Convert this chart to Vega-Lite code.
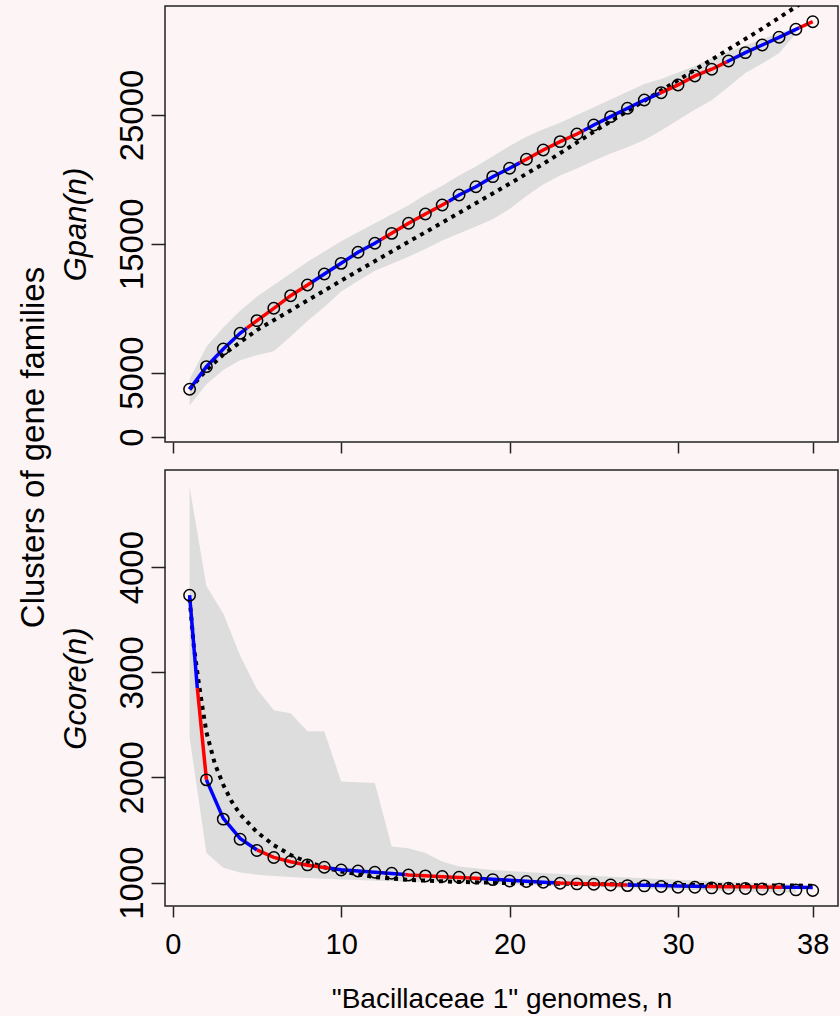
{
  "$schema": "https://vega.github.io/schema/vega-lite/v6.json",
  "background": "#fdf5f5",
  "padding": {"left": 18, "top": 5, "right": 1, "bottom": 2},
  "spacing": 14,
  "title": {"text": "Clusters of gene families", "orient": "left", "anchor": "middle", "frame": "bounds", "fontSize": 33, "font": "Liberation Sans", "fontWeight": "normal", "color": "black", "offset": 8, "dx": 62},
  "config": {
    "font": "Liberation Sans",
    "view": {"stroke": "#222222", "strokeWidth": 1.5},
    "axis": {"domain": false, "grid": false, "tickColor": "#222222", "tickWidth": 1.5, "labelColor": "black", "titleColor": "black", "labelFont": "Liberation Sans", "titleFont": "Liberation Sans", "titleFontWeight": "normal", "labelOverlap": false, "labelFlush": false, "format": "d"},
    "axisY": {"labelAngle": -90, "labelAlign": "center", "labelBaseline": "alphabetic", "labelFontSize": 33, "tickSize": 14, "labelPadding": 9, "titleFontSize": 31, "titleFontStyle": "italic", "titlePadding": 24},
    "axisX": {"labelFontSize": 29, "tickSize": 11, "labelPadding": 13, "titleFontSize": 28, "titlePadding": 26}
  },
  "datasets": {
    "pan_pts": [
      {"n":1,"v":3703},{"n":2,"v":5460},{"n":3,"v":6832},{"n":4,"v":8050},{"n":5,"v":9030},{"n":6,"v":9990},{"n":7,"v":10970},{"n":8,"v":11800},{"n":9,"v":12650},{"n":10,"v":13480},
      {"n":11,"v":14340},{"n":12,"v":15040},{"n":13,"v":15810},{"n":14,"v":16590},{"n":15,"v":17310},{"n":16,"v":18010},{"n":17,"v":18790},{"n":18,"v":19430},{"n":19,"v":20210},{"n":20,"v":20860},
      {"n":21,"v":21560},{"n":22,"v":22280},{"n":23,"v":22930},{"n":24,"v":23520},{"n":25,"v":24220},{"n":26,"v":24870},{"n":27,"v":25520},{"n":28,"v":26160},{"n":29,"v":26730},{"n":30,"v":27330},
      {"n":31,"v":28030},{"n":32,"v":28550},{"n":33,"v":29190},{"n":34,"v":29840},{"n":35,"v":30430},{"n":36,"v":31030},{"n":37,"v":31650},{"n":38,"v":32240}
    ],
    "pan_fit": [
      {"n":1,"v":3703,"seg":0,"alt":"A"},{"n":2,"v":5460,"seg":0,"alt":"A"},{"n":3,"v":6832,"seg":0,"alt":"A"},{"n":4,"v":8050,"seg":0,"alt":"A"},{"n":4.4,"v":8450,"seg":0,"alt":"A"},
      {"n":4.4,"v":8450,"seg":1,"alt":"B"},{"n":5,"v":9030,"seg":1,"alt":"B"},{"n":6,"v":9990,"seg":1,"alt":"B"},{"n":7,"v":10970,"seg":1,"alt":"B"},{"n":8,"v":11800,"seg":1,"alt":"B"},{"n":8.3,"v":12050,"seg":1,"alt":"B"},
      {"n":8.3,"v":12050,"seg":2,"alt":"A"},{"n":9,"v":12650,"seg":2,"alt":"A"},{"n":10,"v":13480,"seg":2,"alt":"A"},{"n":11,"v":14340,"seg":2,"alt":"A"},{"n":12,"v":15040,"seg":2,"alt":"A"},{"n":12.4,"v":15350,"seg":2,"alt":"A"},
      {"n":12.4,"v":15350,"seg":3,"alt":"B"},{"n":13,"v":15810,"seg":3,"alt":"B"},{"n":14,"v":16590,"seg":3,"alt":"B"},{"n":15,"v":17310,"seg":3,"alt":"B"},{"n":16,"v":18010,"seg":3,"alt":"B"},{"n":16.4,"v":18300,"seg":3,"alt":"B"},
      {"n":16.4,"v":18300,"seg":4,"alt":"A"},{"n":17,"v":18790,"seg":4,"alt":"A"},{"n":18,"v":19430,"seg":4,"alt":"A"},{"n":19,"v":20210,"seg":4,"alt":"A"},{"n":20,"v":20860,"seg":4,"alt":"A"},{"n":20.6,"v":21280,"seg":4,"alt":"A"},
      {"n":20.6,"v":21280,"seg":5,"alt":"B"},{"n":21,"v":21560,"seg":5,"alt":"B"},{"n":22,"v":22280,"seg":5,"alt":"B"},{"n":23,"v":22930,"seg":5,"alt":"B"},{"n":24,"v":23520,"seg":5,"alt":"B"},{"n":24.4,"v":23800,"seg":5,"alt":"B"},
      {"n":24.4,"v":23800,"seg":6,"alt":"A"},{"n":25,"v":24220,"seg":6,"alt":"A"},{"n":26,"v":24870,"seg":6,"alt":"A"},{"n":27,"v":25520,"seg":6,"alt":"A"},{"n":28,"v":26160,"seg":6,"alt":"A"},{"n":28.9,"v":26670,"seg":6,"alt":"A"},
      {"n":28.9,"v":26670,"seg":7,"alt":"B"},{"n":29,"v":26730,"seg":7,"alt":"B"},{"n":30,"v":27330,"seg":7,"alt":"B"},{"n":31,"v":28030,"seg":7,"alt":"B"},{"n":32,"v":28550,"seg":7,"alt":"B"},{"n":32.9,"v":29120,"seg":7,"alt":"B"},
      {"n":32.9,"v":29120,"seg":8,"alt":"A"},{"n":33,"v":29190,"seg":8,"alt":"A"},{"n":34,"v":29840,"seg":8,"alt":"A"},{"n":35,"v":30430,"seg":8,"alt":"A"},{"n":36,"v":31030,"seg":8,"alt":"A"},{"n":37,"v":31650,"seg":8,"alt":"A"},{"n":37.2,"v":31770,"seg":8,"alt":"A"},
      {"n":37.2,"v":31770,"seg":9,"alt":"B"},{"n":38,"v":32240,"seg":9,"alt":"B"}
    ],
    "pan_dot": [
      {"n":1,"v":3700},{"n":2,"v":5200},{"n":3,"v":6400},{"n":5,"v":8300},{"n":8,"v":10600},{"n":11,"v":12900},{"n":15,"v":15900},{"n":19,"v":18900},{"n":22,"v":21200},{"n":25,"v":23700},{"n":29,"v":26900},{"n":32,"v":29300},{"n":35,"v":31700},{"n":37,"v":33400},{"n":38,"v":34300}
    ],
    "pan_band": [
      {"n":1,"v":4500,"v2":2450},{"n":2,"v":7000,"v2":4100},{"n":3,"v":8500,"v2":5200},{"n":4,"v":9800,"v2":5950},{"n":5,"v":10900,"v2":6350},{"n":6,"v":11800,"v2":6650},{"n":7,"v":12700,"v2":7800},{"n":8,"v":13600,"v2":9000},{"n":9,"v":14400,"v2":10100},{"n":10,"v":15200,"v2":11300},
      {"n":11,"v":15900,"v2":12100},{"n":12,"v":16600,"v2":12900},{"n":13,"v":17300,"v2":13450},{"n":14,"v":18000,"v2":14000},{"n":15,"v":18800,"v2":14600},{"n":16,"v":19500,"v2":15250},{"n":17,"v":20300,"v2":15800},{"n":18,"v":21000,"v2":16350},{"n":19,"v":21800,"v2":16900},{"n":20,"v":22600,"v2":17700},
      {"n":21,"v":23300,"v2":18700},{"n":22,"v":23900,"v2":19600},{"n":23,"v":24400,"v2":20300},{"n":24,"v":25000,"v2":20850},{"n":25,"v":25600,"v2":21450},{"n":26,"v":26200,"v2":22000},{"n":27,"v":26800,"v2":22500},{"n":28,"v":27400,"v2":23050},{"n":29,"v":27800,"v2":23800},{"n":30,"v":28300,"v2":24600},
      {"n":31,"v":28800,"v2":25400},{"n":32,"v":29400,"v2":26150},{"n":33,"v":29900,"v2":27200},{"n":34,"v":30400,"v2":28250},{"n":35,"v":30900,"v2":29000},{"n":36,"v":31350,"v2":29800},{"n":37,"v":31800,"v2":31300}
    ],
    "core_pts": [
      {"n":1,"v":3733},{"n":2,"v":1977},{"n":3,"v":1603},{"n":4,"v":1412},{"n":5,"v":1305},{"n":6,"v":1238},{"n":7,"v":1200},{"n":8,"v":1168},{"n":9,"v":1146},{"n":10,"v":1120},
      {"n":11,"v":1110},{"n":12,"v":1098},{"n":13,"v":1089},{"n":14,"v":1072},{"n":15,"v":1063},{"n":16,"v":1057},{"n":17,"v":1050},{"n":18,"v":1044},{"n":19,"v":1028},{"n":20,"v":1015},
      {"n":21,"v":1010},{"n":22,"v":1003},{"n":23,"v":993},{"n":24,"v":987},{"n":25,"v":984},{"n":26,"v":977},{"n":27,"v":971},{"n":28,"v":968},{"n":29,"v":962},{"n":30,"v":955},
      {"n":31,"v":955},{"n":32,"v":949},{"n":33,"v":946},{"n":34,"v":943},{"n":35,"v":939},{"n":36,"v":936},{"n":37,"v":930},{"n":38,"v":924}
    ],
    "core_fit": [
      {"n":1,"v":3733,"seg":0,"alt":"A"},{"n":1.46,"v":2850,"seg":0,"alt":"A"},
      {"n":1.46,"v":2850,"seg":1,"alt":"B"},{"n":2,"v":1977,"seg":1,"alt":"B"},
      {"n":2,"v":1977,"seg":2,"alt":"A"},{"n":3,"v":1610,"seg":2,"alt":"A"},{"n":4,"v":1420,"seg":2,"alt":"A"},{"n":5,"v":1310,"seg":2,"alt":"A"},
      {"n":5,"v":1310,"seg":3,"alt":"B"},{"n":6,"v":1240,"seg":3,"alt":"B"},{"n":7,"v":1198,"seg":3,"alt":"B"},{"n":8,"v":1165,"seg":3,"alt":"B"},{"n":9,"v":1143,"seg":3,"alt":"B"},{"n":9.35,"v":1135,"seg":3,"alt":"B"},
      {"n":9.35,"v":1135,"seg":4,"alt":"A"},{"n":10,"v":1122,"seg":4,"alt":"A"},{"n":11,"v":1110,"seg":4,"alt":"A"},{"n":12,"v":1098,"seg":4,"alt":"A"},{"n":13,"v":1086,"seg":4,"alt":"A"},{"n":13.8,"v":1076,"seg":4,"alt":"A"},
      {"n":13.8,"v":1076,"seg":5,"alt":"B"},{"n":14,"v":1073,"seg":5,"alt":"B"},{"n":15,"v":1064,"seg":5,"alt":"B"},{"n":16,"v":1056,"seg":5,"alt":"B"},{"n":17,"v":1048,"seg":5,"alt":"B"},{"n":18,"v":1041,"seg":5,"alt":"B"},{"n":18.25,"v":1039,"seg":5,"alt":"B"},
      {"n":18.25,"v":1039,"seg":6,"alt":"A"},{"n":19,"v":1031,"seg":6,"alt":"A"},{"n":20,"v":1021,"seg":6,"alt":"A"},{"n":21,"v":1012,"seg":6,"alt":"A"},{"n":22,"v":1004,"seg":6,"alt":"A"},{"n":22.7,"v":998,"seg":6,"alt":"A"},
      {"n":22.7,"v":998,"seg":7,"alt":"B"},{"n":23,"v":995,"seg":7,"alt":"B"},{"n":24,"v":990,"seg":7,"alt":"B"},{"n":25,"v":986,"seg":7,"alt":"B"},{"n":26,"v":981,"seg":7,"alt":"B"},{"n":27,"v":977,"seg":7,"alt":"B"},
      {"n":27,"v":977,"seg":8,"alt":"A"},{"n":28,"v":974,"seg":8,"alt":"A"},{"n":29,"v":971,"seg":8,"alt":"A"},{"n":30,"v":968,"seg":8,"alt":"A"},{"n":31,"v":965,"seg":8,"alt":"A"},{"n":31.7,"v":963,"seg":8,"alt":"A"},
      {"n":31.7,"v":963,"seg":9,"alt":"B"},{"n":32,"v":962,"seg":9,"alt":"B"},{"n":33,"v":961,"seg":9,"alt":"B"},{"n":34,"v":959,"seg":9,"alt":"B"},{"n":35,"v":958,"seg":9,"alt":"B"},{"n":36,"v":956,"seg":9,"alt":"B"},{"n":36.2,"v":956,"seg":9,"alt":"B"},
      {"n":36.2,"v":956,"seg":10,"alt":"A"},{"n":37,"v":955,"seg":10,"alt":"A"},{"n":38,"v":954,"seg":10,"alt":"A"}
    ],
    "core_dot": [
      {"n":1,"v":3700},{"n":1.25,"v":3250},{"n":1.5,"v":2950},{"n":1.75,"v":2680},{"n":2,"v":2430},{"n":2.5,"v":2130},{"n":3,"v":1930},{"n":3.5,"v":1770},{"n":4,"v":1650},{"n":5,"v":1480},{"n":6,"v":1355},{"n":7,"v":1262},{"n":8,"v":1195},{"n":9,"v":1145},{"n":10,"v":1105},{"n":12,"v":1052},{"n":14,"v":1025},{"n":17,"v":1006},{"n":20,"v":995},{"n":25,"v":985},{"n":30,"v":978},{"n":34,"v":974},{"n":38,"v":970}
    ],
    "core_band": [
      {"n":1,"v":4765,"v2":2380},{"n":2,"v":3820,"v2":1280},{"n":3,"v":3560,"v2":1140},{"n":4,"v":3160,"v2":1095},{"n":5,"v":2840,"v2":1075},{"n":6,"v":2640,"v2":1062},{"n":7,"v":2610,"v2":1052},{"n":8,"v":2438,"v2":1044},{"n":9,"v":2438,"v2":1037},{"n":10,"v":1962,"v2":1030},
      {"n":11,"v":1955,"v2":1024},{"n":12,"v":1946,"v2":1018},{"n":13,"v":1343,"v2":1013},{"n":14,"v":1327,"v2":1008},{"n":15,"v":1280,"v2":1004},{"n":16,"v":1200,"v2":1000},{"n":17,"v":1152,"v2":996},{"n":18,"v":1136,"v2":992},{"n":19,"v":1120,"v2":987},{"n":20,"v":1110,"v2":982},
      {"n":21,"v":1100,"v2":977},{"n":22,"v":1090,"v2":972},{"n":23,"v":1081,"v2":967},{"n":24,"v":1072,"v2":962},{"n":25,"v":1064,"v2":957},{"n":26,"v":1056,"v2":952},{"n":27,"v":1048,"v2":947},{"n":28,"v":1040,"v2":942},{"n":29,"v":1033,"v2":937},{"n":30,"v":1026,"v2":932},
      {"n":31,"v":1019,"v2":928},{"n":32,"v":1012,"v2":924},{"n":33,"v":1006,"v2":920},{"n":34,"v":1000,"v2":916},{"n":35,"v":994,"v2":912},{"n":36,"v":988,"v2":908},{"n":37,"v":980,"v2":904}
    ]
  },
  "vconcat": [
    {
      "width": 673,
      "height": 436,
      "encoding": {
        "x": {"field": "n", "type": "quantitative", "scale": {"domain": [-0.46, 39.5], "nice": false, "zero": false}, "axis": {"values": [0, 10, 20, 30, 38], "labels": false, "title": null}},
        "y": {"field": "v", "type": "quantitative", "scale": {"domain": [-390, 33460], "nice": false, "zero": false}, "axis": {"values": [0, 5000, 15000, 25000], "title": "Gpan(n)"}}
      },
      "layer": [
        {"data": {"name": "pan_band"}, "mark": {"type": "area", "color": "#dddddd", "clip": true}, "encoding": {"y2": {"field": "v2"}}},
        {"data": {"name": "pan_dot"}, "mark": {"type": "line", "color": "black", "strokeDash": [4, 5], "strokeWidth": 4, "clip": true}, "encoding": {}},
        {"data": {"name": "pan_fit"}, "mark": {"type": "line", "strokeWidth": 3.5, "clip": true}, "encoding": {"detail": {"field": "seg", "type": "nominal"}, "color": {"field": "alt", "type": "nominal", "scale": {"domain": ["A", "B"], "range": ["#0000ff", "#ff0000"]}, "legend": null}}},
        {"data": {"name": "pan_pts"}, "mark": {"type": "point", "shape": "circle", "filled": false, "color": "black", "size": 130, "strokeWidth": 1.5, "opacity": 1}, "encoding": {}}
      ]
    },
    {
      "width": 673,
      "height": 436,
      "encoding": {
        "x": {"field": "n", "type": "quantitative", "scale": {"domain": [-0.46, 39.5], "nice": false, "zero": false}, "axis": {"values": [0, 10, 20, 30, 38], "title": "\"Bacillaceae 1\" genomes, n"}},
        "y": {"field": "v", "type": "quantitative", "scale": {"domain": [777, 4924], "nice": false, "zero": false}, "axis": {"values": [1000, 2000, 3000, 4000], "title": "Gcore(n)"}}
      },
      "layer": [
        {"data": {"name": "core_band"}, "mark": {"type": "area", "color": "#dddddd", "clip": true}, "encoding": {"y2": {"field": "v2"}}},
        {"data": {"name": "core_dot"}, "mark": {"type": "line", "color": "black", "strokeDash": [4, 5], "strokeWidth": 4, "clip": true}, "encoding": {}},
        {"data": {"name": "core_fit"}, "mark": {"type": "line", "strokeWidth": 3.5, "clip": true}, "encoding": {"detail": {"field": "seg", "type": "nominal"}, "color": {"field": "alt", "type": "nominal", "scale": {"domain": ["A", "B"], "range": ["#0000ff", "#ff0000"]}, "legend": null}}},
        {"data": {"name": "core_pts"}, "mark": {"type": "point", "shape": "circle", "filled": false, "color": "black", "size": 130, "strokeWidth": 1.5, "opacity": 1}, "encoding": {}}
      ]
    }
  ]
}
